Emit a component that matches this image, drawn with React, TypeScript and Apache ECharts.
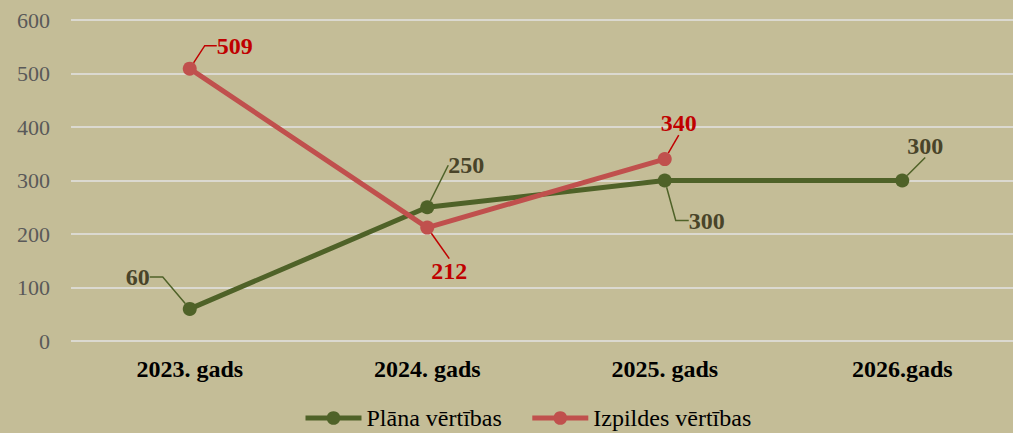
import React, { useEffect, useRef } from "react";
import * as echarts from "echarts";

const categories = ["2023. gads", "2024. gads", "2025. gads", "2026.gads"];
const planValues = [60, 250, 300, 300];
const actualValues: (number | null)[] = [509, 212, 340, null];
const seriesNames = ["Plāna vērtības", "Izpildes vērtības"];
const yTicks = { min: 0, max: 600, interval: 100 };

// label offsets (px from marker centre) and leader elbow lengths
const planLabelOffsets = [[-52, -32], [39, -42], [42, 40], [23, -35]];
const actualLabelOffsets = [[45, -23], [22, 43], [14, -36], [0, 0]];
const planElbow = [13, 0, 13, 0];
const actualElbow = [12, 0, 0, 0];

const FONT = "'Liberation Serif', 'Times New Roman', serif";
const GREEN = "#4F6228";
const RED = "#C0504D";
const GREEN_LABEL = "#494429";
const RED_LABEL = "#C00000";

export default function App() {
  const ref = useRef<HTMLDivElement>(null);
  useEffect(() => {
    document.body.style.margin = "0";
    if (!ref.current) return;
    const chart = echarts.init(ref.current, null, { renderer: "svg" });
    const offsets = [planLabelOffsets, actualLabelOffsets];
    const mk = (vals: (number | null)[], elbow: number[], lineColor: string) =>
      vals.map((v, i) => ({
        value: v,
        labelLine: { show: true, length2: elbow[i], lineStyle: { color: lineColor, width: 1.5 } },
      }));
    const layoutFor = (s: number) => (p: any) => {
      const o = offsets[s][p.dataIndex];
      return {
        x: p.rect.x + p.rect.width / 2 + o[0],
        y: p.rect.y + p.rect.height / 2 + o[1],
        align: "center",
        verticalAlign: "middle",
      };
    };
    chart.setOption({
      animation: false,
      backgroundColor: "#C4BD97",
      textStyle: { fontFamily: FONT },
      grid: { left: 71, width: 950, top: 20, bottom: 92, containLabel: false, outerBoundsMode: "none" },
      legend: {
        left: 303,
        top: 406,
        padding: 0,
        itemWidth: 56,
        itemHeight: 17,
        itemGap: 28,
        lineStyle: { width: 5 },
        textStyle: { fontFamily: FONT, fontSize: 24, color: "#000" },
        data: seriesNames,
      },
      xAxis: {
        type: "category",
        data: categories,
        boundaryGap: true,
        axisLine: { show: false },
        axisTick: { show: false },
        axisLabel: { fontFamily: FONT, fontSize: 24, fontWeight: "bold", color: "#000", margin: 16 },
      },
      yAxis: {
        type: "value",
        min: yTicks.min,
        max: yTicks.max,
        interval: yTicks.interval,
        axisLine: { show: false },
        axisTick: { show: false },
        axisLabel: { fontFamily: FONT, fontSize: 22, color: "#595959", margin: 21 },
        splitLine: { lineStyle: { color: "#E3E3E3", width: 1.5 } },
      },
      series: [
        {
          name: seriesNames[0],
          type: "line",
          data: mk(planValues, planElbow, GREEN),
          symbol: "circle",
          symbolSize: 14,
          lineStyle: { color: GREEN, width: 5 },
          itemStyle: { color: GREEN },
          label: {
            show: true,
            position: "inside",
            fontFamily: FONT,
            fontSize: 24,
            fontWeight: "bold",
            color: GREEN_LABEL,
          },
          labelLine: { show: true, lineStyle: { color: GREEN, width: 1.5 } },
          labelLayout: layoutFor(0),
        },
        {
          name: seriesNames[1],
          type: "line",
          data: mk(actualValues, actualElbow, RED_LABEL),
          symbol: "circle",
          symbolSize: 14,
          lineStyle: { color: RED, width: 5 },
          itemStyle: { color: RED },
          label: {
            show: true,
            position: "inside",
            fontFamily: FONT,
            fontSize: 24,
            fontWeight: "bold",
            color: RED_LABEL,
          },
          labelLine: { show: true, lineStyle: { color: RED_LABEL, width: 1.5 } },
          labelLayout: layoutFor(1),
        },
      ],
    });
    return () => chart.dispose();
  }, []);
  return <div ref={ref} style={{ width: 1013, height: 433 }} />;
}
